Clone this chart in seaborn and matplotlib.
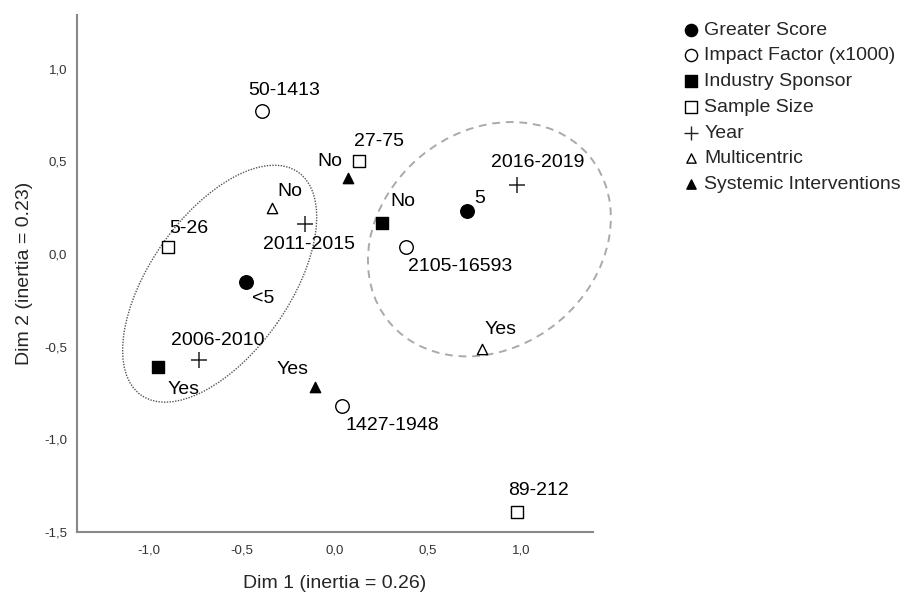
import matplotlib
matplotlib.use("Agg")
import matplotlib.pyplot as plt
from matplotlib.patches import Ellipse
from matplotlib.ticker import FuncFormatter
import seaborn as sns
import pandas as pd

# category coordinates
groups = ["Greater Score", "Impact Factor (x1000)", "Industry Sponsor", "Sample Size",
          "Year", "Multicentric", "Systemic Interventions"]

greater_labels = ["5", "<5"]
greater_x = [0.71, -0.48]
greater_y = [0.23, -0.15]

impact_labels = ["50-1413", "2105-16593", "1427-1948"]
impact_x = [-0.39, 0.38, 0.04]
impact_y = [0.77, 0.04, -0.82]

sponsor_labels = ["No", "Yes"]
sponsor_x = [0.25, -0.95]
sponsor_y = [0.17, -0.61]

sample_labels = ["27-75", "5-26", "89-212"]
sample_x = [0.13, -0.90, 0.98]
sample_y = [0.50, 0.04, -1.39]

year_labels = ["2011-2015", "2016-2019", "2006-2010"]
year_x = [-0.16, 0.98, -0.73]
year_y = [0.16, 0.37, -0.57]

multi_labels = ["No", "Yes"]
multi_x = [-0.34, 0.79]
multi_y = [0.25, -0.51]

systemic_labels = ["No", "Yes"]
systemic_x = [0.07, -0.11]
systemic_y = [0.41, -0.72]

rows = []
for g, labs, xs, ys in zip(
        groups,
        [greater_labels, impact_labels, sponsor_labels, sample_labels, year_labels, multi_labels, systemic_labels],
        [greater_x, impact_x, sponsor_x, sample_x, year_x, multi_x, systemic_x],
        [greater_y, impact_y, sponsor_y, sample_y, year_y, multi_y, systemic_y]):
    for lab, x, y in zip(labs, xs, ys):
        rows.append({"group": g, "label": lab, "dim1": x, "dim2": y})
df = pd.DataFrame(rows)

# marker style per group: (marker, face, size)
styles = {
    "Greater Score": ("o", "black", 95),
    "Impact Factor (x1000)": ("o", "white", 95),
    "Industry Sponsor": ("s", "black", 85),
    "Sample Size": ("s", "white", 85),
    "Year": ("+", None, 120),
    "Multicentric": ("^", "white", 55),
    "Systemic Interventions": ("^", "black", 55),
}

# label offsets in pixels (dx, dy up) for each (group, label)
offsets = {
    ("Greater Score", "5"): (13, 13), ("Greater Score", "<5"): (17, -17),
    ("Impact Factor (x1000)", "50-1413"): (22, 21),
    ("Impact Factor (x1000)", "2105-16593"): (54, -20),
    ("Impact Factor (x1000)", "1427-1948"): (50, -20),
    ("Industry Sponsor", "No"): (21, 21), ("Industry Sponsor", "Yes"): (25, -22),
    ("Sample Size", "27-75"): (20, 20), ("Sample Size", "5-26"): (21, 18),
    ("Sample Size", "89-212"): (21, 21),
    ("Year", "2011-2015"): (4, -20), ("Year", "2016-2019"): (20, 23),
    ("Year", "2006-2010"): (19, 19),
    ("Multicentric", "No"): (18, 16), ("Multicentric", "Yes"): (19, 19),
    ("Systemic Interventions", "No"): (-18, 17), ("Systemic Interventions", "Yes"): (-22, 18),
}

sns.set_style("white")
plt.rcParams["font.family"] = ["Liberation Sans", "DejaVu Sans"]

fig = plt.figure(figsize=(9.1, 5.93), dpi=100)
ax = fig.add_axes([77 / 910, 1 - 532 / 593, 516 / 910, 517 / 593])

# ellipses drawn first
ax.add_patch(Ellipse((-0.62, -0.16), 1.47, 0.75, angle=55, fill=False,
                     edgecolor="#555555", linestyle=(0, (1, 1)), linewidth=1.0, clip_on=False))
ax.add_patch(Ellipse((0.83, 0.08), 1.40, 1.16, angle=40, fill=False,
                     edgecolor="#aaaaaa", linestyle=(0, (4, 3)), linewidth=1.4, clip_on=False))

for g in groups:
    sub = df[df["group"] == g]
    marker, face, size = styles[g]
    if face is None:
        sns.scatterplot(data=sub, x="dim1", y="dim2", marker=marker, s=size, color="#222222",
                        linewidth=1.1, ax=ax, label=g, legend=False, zorder=3)
    else:
        sns.scatterplot(data=sub, x="dim1", y="dim2", marker=marker, s=size, facecolor=face,
                        edgecolor="black", linewidth=1.0, ax=ax, label=g, legend=False, zorder=3)

for _, r in df.iterrows():
    dx, dy = offsets[(r["group"], r["label"])]
    ax.annotate(r["label"], (r["dim1"], r["dim2"]), xytext=(dx * 0.72, dy * 0.72),
                textcoords="offset points", ha="center", va="center", fontsize=14, color="black")

ax.set_xlim(-1.387, 1.387)
ax.set_ylim(-1.49, 1.29)
ax.set_xticks([-1.0, -0.5, 0.0, 0.5, 1.0])
ax.set_yticks([-1.5, -1.0, -0.5, 0.0, 0.5, 1.0])
comma = FuncFormatter(lambda v, p: f"{v:.1f}".replace(".", ","))
ax.xaxis.set_major_formatter(comma)
ax.yaxis.set_major_formatter(comma)
ax.tick_params(length=0, labelsize=9.5, labelcolor="#333333")
ax.tick_params(axis="x", pad=9)
ax.tick_params(axis="y", pad=7)

for side in ["top", "right"]:
    ax.spines[side].set_visible(False)
for side in ["left", "bottom"]:
    ax.spines[side].set_color("#888888")
    ax.spines[side].set_linewidth(1.5)

ax.set_xlabel("Dim 1 (inertia = 0.26)", fontsize=14, labelpad=13)
ax.set_ylabel("Dim 2 (inertia = 0.23)", fontsize=14, labelpad=8)

handles, labels = ax.get_legend_handles_labels()
leg = fig.legend(handles, labels, loc="upper left", bbox_to_anchor=(683 / 910, 1 - 21 / 593),
                 frameon=False, fontsize=14, handlelength=0.8, handletextpad=0.3,
                 labelspacing=0.42, borderpad=0, borderaxespad=0, markerscale=0.9)
for h in leg.legend_handles:
    h.set_linewidth(1.0)

fig.savefig("out.png", dpi=100)
